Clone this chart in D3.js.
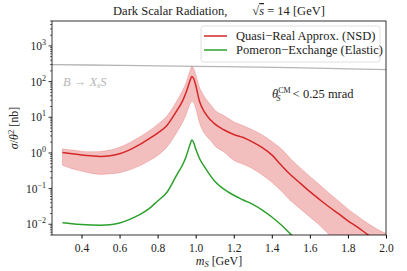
<!DOCTYPE html>
<html>
<head>
<meta charset="utf-8">
<title>Dark Scalar Radiation</title>
<script src="https://cdn.jsdelivr.net/npm/d3@7"></script>
<style>
  body { margin: 0; background: #fff; }
  svg text { font-family: 'Liberation Serif', 'DejaVu Serif', serif; fill: #222; }
</style>
</head>
<body>
<svg id="chart"></svg>
<script>
// data
var mass = [0.30,0.35,0.40,0.45,0.50,0.55,0.60,0.65,0.70,0.75,0.80,0.85,0.90,0.93,0.95,0.97,0.98,0.99,1.00,1.02,1.05,1.08,1.10,1.15,1.20,1.25,1.30,1.35,1.40,1.45,1.50,1.55,1.60,1.65,1.70,1.75,1.80,1.85,1.90,1.95,2.00];
var quasiReal = [1.03,0.95,0.88,0.83,0.80,0.83,0.95,1.2,1.65,2.4,3.6,6.0,15,28,50,105,140,120,80,28,13,8.2,6.5,4.4,3.3,2.7,2.0,1.4,0.88,0.45,0.24,0.14,0.082,0.05,0.031,0.02,0.0125,0.0083,0.0053,0.0034,0.0022];
var quasiUpper = [1.3,1.2,1.12,1.08,1.1,1.2,1.45,1.9,2.7,4.0,6.3,11,28,55,95,200,265,230,160,70,35,22,16,11,7.5,5.8,4.4,3.2,2.1,1.3,0.68,0.38,0.22,0.13,0.075,0.045,0.027,0.017,0.011,0.0075,0.0055];
var quasiLower = [0.45,0.36,0.31,0.27,0.25,0.26,0.28,0.33,0.42,0.58,0.85,1.5,3.7,7,12,23,28,25,18,7,3.3,2.2,1.6,1.05,0.62,0.48,0.36,0.24,0.15,0.085,0.045,0.027,0.016,0.0095,0.0052,0.003,0.0018,0.0011,0.0007,0.0004,0.00025];
var pomeron = [0.0110,0.0103,0.0098,0.0095,0.0094,0.0097,0.0108,0.0135,0.018,0.026,0.045,0.08,0.24,0.45,0.8,1.7,2.3,1.9,1.3,0.7,0.38,0.22,0.16,0.095,0.065,0.048,0.036,0.025,0.016,0.0095,0.0052,0.003];
var bsMass = [0.245,0.6,1.0,1.5,2.0];
var bsLimit = [300,285,268,245,216];
var xTicks = [0.4,0.6,0.8,1.0,1.2,1.4,1.6,1.8,2.0];
var yExponents = [-2,-1,0,1,2,3];

var width = 407, height = 271;
var pl = 52, pr = 386, pt = 21, pb = 235;

var svg = d3.select("#chart").attr("width", width).attr("height", height);

var x = d3.scaleLinear().domain([0.245, 2.0]).range([pl, pr]);
var y = d3.scaleLog().domain([5e-3, 5e3]).range([pb, pt]);

svg.append("clipPath").attr("id", "plotclip")
  .append("rect").attr("x", pl).attr("y", pt).attr("width", pr - pl).attr("height", pb - pt);

var g = svg.append("g").attr("clip-path", "url(#plotclip)");

var red = "#d62728", green = "#2ca02c";

var line = d3.line().x(function(d){ return x(d[0]); }).y(function(d){ return y(d[1]); }).curve(d3.curveMonotoneX);

// B -> X_s S limit
g.append("path")
  .attr("d", line(bsMass.map(function(m, i){ return [m, bsLimit[i]]; })))
  .attr("fill", "none").attr("stroke", "#b5b5b5").attr("stroke-width", 1.3);

// uncertainty band
var band = mass.map(function(m, i){ return {m: m, lo: quasiLower[i], hi: quasiUpper[i]}; });
g.append("path")
  .attr("d", d3.area().x(function(d){ return x(d.m); })
    .y0(function(d){ return y(d.lo); }).y1(function(d){ return y(d.hi); })
    .curve(d3.curveMonotoneX)(band))
  .attr("fill", red).attr("fill-opacity", 0.3)
  .attr("stroke", red).attr("stroke-opacity", 0.25).attr("stroke-width", 0.8);

g.append("path")
  .attr("d", line(mass.map(function(m, i){ return [m, quasiReal[i]]; })))
  .attr("fill", "none").attr("stroke", red).attr("stroke-width", 1.5);

g.append("path")
  .attr("d", line(pomeron.map(function(v, i){ return [mass[i], v]; })))
  .attr("fill", "none").attr("stroke", green).attr("stroke-width", 1.5);

// frame
svg.append("rect").attr("x", pl).attr("y", pt).attr("width", pr - pl).attr("height", pb - pt)
  .attr("fill", "none").attr("stroke", "#000").attr("stroke-width", 0.8);

// x axis
var xAxis = svg.append("g").attr("transform", "translate(0," + pb + ")")
  .call(d3.axisBottom(x).tickValues(xTicks).tickFormat(d3.format(".1f")).tickSize(3.5).tickSizeOuter(0));
xAxis.select(".domain").remove();
xAxis.selectAll("text").attr("font-size", 11.5).attr("dy", "0.95em").style("font-family", "'Liberation Serif', serif").style("fill", "#222");

// y axis, major + minor ticks
var yAxis = svg.append("g").attr("transform", "translate(" + pl + ",0)");
var minor = [];
for (var e = -3; e <= 3; e++) {
  for (var k = 2; k <= 9; k++) {
    var v = k * Math.pow(10, e);
    if (v >= 5e-3 && v <= 5e3) minor.push(v);
  }
}
yAxis.selectAll("line.minor").data(minor).enter().append("line")
  .attr("x1", -2).attr("x2", 0)
  .attr("y1", function(d){ return y(d); }).attr("y2", function(d){ return y(d); })
  .attr("stroke", "#000").attr("stroke-width", 0.6);
yAxis.selectAll("line.major").data(yExponents).enter().append("line")
  .attr("x1", -3.5).attr("x2", 0)
  .attr("y1", function(d){ return y(Math.pow(10, d)); }).attr("y2", function(d){ return y(Math.pow(10, d)); })
  .attr("stroke", "#000").attr("stroke-width", 0.8);
var ylab = yAxis.selectAll("text.tl").data(yExponents).enter().append("text")
  .attr("x", -6).attr("y", function(d){ return y(Math.pow(10, d)) + 4; })
  .attr("text-anchor", "end").attr("font-size", 11.5);
ylab.append("tspan").text("10");
ylab.append("tspan").attr("dy", -5).attr("font-size", 8).text(function(d){ return d < 0 ? "\u2212" + (-d) : d; });

// axis labels
svg.append("text").attr("x", (pl + pr) / 2).attr("y", 265).attr("text-anchor", "middle").attr("font-size", 12)
  .html('<tspan font-style="italic">m</tspan><tspan font-style="italic" font-size="8.5" dy="2">S</tspan><tspan dy="-2"> [GeV]</tspan>');

svg.append("text").attr("transform", "translate(18," + ((pt + pb) / 2) + ") rotate(-90)")
  .attr("text-anchor", "middle").attr("font-size", 12)
  .html('<tspan font-style="italic">σ</tspan>/<tspan font-style="italic">θ</tspan><tspan font-size="8.5" dy="-4">2</tspan><tspan dy="4"> [nb]</tspan>');

// title
var title = svg.append("text").attr("x", 219).attr("y", 15).attr("text-anchor", "middle").attr("font-size", 12.5);
title.append("tspan").text("Dark Scalar Radiation,\u2003\u2003\u221A");
title.append("tspan").attr("font-style", "italic").style("text-decoration", "overline").text("s");
title.append("tspan").text(" = 14 [GeV]");

// annotations
svg.append("text").attr("x", 63).attr("y", 86).attr("font-size", 12.5)
  .html('<tspan font-style="italic" style="fill:#b5b5b5">B</tspan><tspan style="fill:#b5b5b5"> \u2192 </tspan><tspan font-style="italic" style="fill:#b5b5b5">X</tspan><tspan font-style="italic" font-size="8.5" dy="2" style="fill:#b5b5b5">s</tspan><tspan font-style="italic" dy="-2" style="fill:#b5b5b5">S</tspan>');

svg.append("text").attr("x", 272).attr("y", 98).attr("font-size", 12.5)
  .html('<tspan font-style="italic">θ</tspan><tspan font-size="8" dy="-5">CM</tspan><tspan font-size="8" font-style="italic" dx="-14" dy="8">S</tspan><tspan dx="9" dy="-3"> &lt; 0.25 mrad</tspan>');

// legend
var legend = svg.append("g");
legend.append("rect").attr("x", 201).attr("y", 26).attr("width", 179).attr("height", 36).attr("rx", 2.5)
  .attr("fill", "#fff").attr("fill-opacity", 0.85).attr("stroke", "#d8d8d8").attr("stroke-width", 0.8);
var entries = [["Quasi\u2212Real Approx. (NSD)", red], ["Pomeron\u2212Exchange (Elastic)", green]];
entries.forEach(function(en, i){
  var yy = 36 + i * 14;
  legend.append("line").attr("x1", 204).attr("x2", 227).attr("y1", yy).attr("y2", yy)
    .attr("stroke", en[1]).attr("stroke-width", 1.5);
  legend.append("text").attr("x", 236).attr("y", yy + 4).attr("font-size", 12.5).text(en[0]);
});
</script>
</body>
</html>
